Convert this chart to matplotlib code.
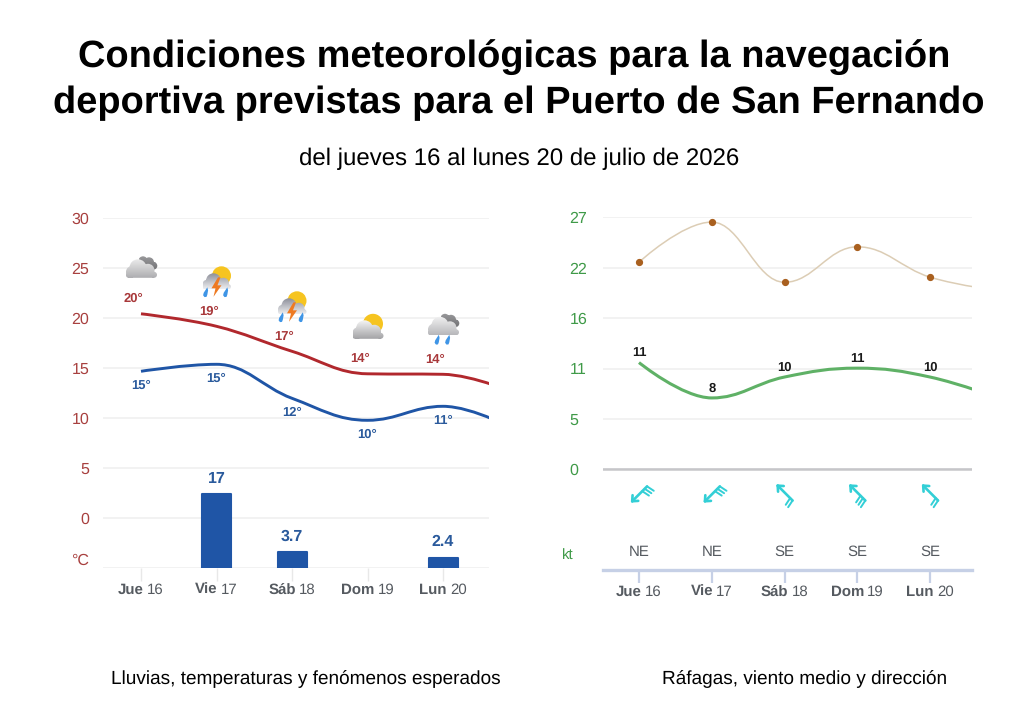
import numpy as np
import matplotlib
matplotlib.use("Agg")
import matplotlib.pyplot as plt
from matplotlib.path import Path
from matplotlib.patches import PathPatch, Circle, Polygon
from matplotlib.transforms import offset_copy

plt.rcParams["font.family"] = ["Liberation Sans", "DejaVu Sans"]
plt.rcParams["text.hinting"] = "no_hinting"
plt.rcParams["text.hinting_factor"] = 1

# Forecast data; the sixth value belongs to the next day, which only enters the
# plot as the tail of each curve at the right edge.
day_names = ["Jue", "Vie", "Sáb", "Dom", "Lun"]
day_numbers = ["16", "17", "18", "19", "20"]
temp_max = [20.45, 19.2, 16.7, 14.45, 14.4, 12.4]
temp_min = [14.7, 15.4, 12.0, 9.8, 11.2, 8.7]
rain_mm = [0, 17, 3.7, 0, 2.4]
sky = ["nube", "tormenta", "tormenta", "sol", "lluvia"]
wind_mean = [11.45, 7.66, 9.9, 10.85, 9.9, 7.5]
wind_gust = [22.2, 26.5, 20.05, 23.85, 20.6, 19.1]
wind_from_deg = [45, 45, 135, 135, 135]
wind_feathers = [3, 3, 2, 3, 2]
wind_names = ["NE", "NE", "SE", "SE", "SE"]
temp_ticks = [-5, 0, 5, 10, 15, 20, 25, 30]
temp_tick_labels = ["", "0", "5", "10", "15", "20", "25", "30"]
wind_ticks = [0, 5.4, 10.8, 16.2, 21.6, 27]
wind_tick_labels = ["0", "5", "11", "16", "22", "27"]

W, H = 1024, 720
RED = "#b1282d"
BLUE = "#1f55a6"
GREEN = "#5fb166"
TEXT_RED = "#a8403f"
TEXT_GREEN = "#3f9a48"
GREY = "#555a60"
CYAN = "#33cfd6"

fig = plt.figure(figsize=(W / 100, H / 100), dpi=100, facecolor="white")


def px_axes(left, top, right, bottom, **kw):
    return fig.add_axes([left / W, 1 - bottom / H, (right - left) / W, (bottom - top) / H], **kw)


def spline(xs, ys):
    """Smooth path through the points, with the control points a spline chart uses."""
    n = len(xs)
    ctrl = []
    for i in range(n):
        if i in (0, n - 1):
            ctrl.append((xs[i], ys[i], xs[i], ys[i]))
            continue
        x, y = xs[i], ys[i]
        lx, ly = xs[i - 1], ys[i - 1]
        nx, ny = xs[i + 1], ys[i + 1]
        lcx, lcy = (1.5 * x + lx) / 2.5, (1.5 * y + ly) / 2.5
        rcx, rcy = (1.5 * x + nx) / 2.5, (1.5 * y + ny) / 2.5
        corr = (rcy - lcy) * (rcx - x) / (rcx - lcx) + y - rcy
        lcy += corr
        rcy += corr
        if lcy > ly and lcy > y:
            lcy = max(ly, y)
            rcy = 2 * y - lcy
        elif lcy < ly and lcy < y:
            lcy = min(ly, y)
            rcy = 2 * y - lcy
        if rcy > ny and rcy > y:
            rcy = max(ny, y)
            lcy = 2 * y - rcy
        elif rcy < ny and rcy < y:
            rcy = min(ny, y)
            lcy = 2 * y - rcy
        ctrl.append((lcx, lcy, rcx, rcy))
    verts = [(xs[0], ys[0])]
    codes = [Path.MOVETO]
    for i in range(1, n):
        verts += [(ctrl[i - 1][2], ctrl[i - 1][3]), (ctrl[i][0], ctrl[i][1]), (xs[i], ys[i])]
        codes += [Path.CURVE4] * 3
    return Path(verts, codes)


def draw_curve(ax, values, color, width, zorder=3):
    patch = PathPatch(spline(list(range(len(values))), values), fill=False, edgecolor=color,
                      linewidth=width, capstyle="butt", zorder=zorder)
    ax.add_patch(patch)


def note(ax, text, x, y, dx, dy, **kw):
    ax.annotate(text, (x, y), xytext=(dx * 0.72, -dy * 0.72), textcoords="offset points",
                ha="center", va="center", **kw)


def day_label(ax, i, baseline_px_below):
    """Bold weekday and regular date on one baseline, centred together under the category."""
    renderer = fig.canvas.get_renderer()
    style = dict(fontsize=11, color=GREY, va="baseline", clip_on=False)
    base = ax.get_xaxis_transform()
    bold = ax.text(i, 0, day_names[i], fontweight="bold", ha="left", **style)
    plain = ax.text(i, 0, day_numbers[i], ha="left", **style)
    w_bold = bold.get_window_extent(renderer).width
    w_plain = plain.get_window_extent(renderer).width
    gap = 3.2
    start = -(w_bold + gap + w_plain) / 2
    bold.set_transform(offset_copy(base, fig=fig, x=start, y=-baseline_px_below, units="dots"))
    plain.set_transform(offset_copy(base, fig=fig, x=start + w_bold + gap, y=-baseline_px_below, units="dots"))


# ---- left panel: rain, temperatures and sky ----
ax_t = px_axes(103, 218.3, 489, 568.3)
ax_t.set_xlim((103 - 141) / 75.5, (489 - 141) / 75.5)
ax_t.set_ylim(-5, 30)
for s in ax_t.spines.values():
    s.set_visible(False)
ax_t.set_yticks(temp_ticks, temp_tick_labels, fontsize=11.5, color=TEXT_RED)
ax_t.tick_params(axis="y", length=0, pad=10)
ax_t.grid(axis="y", color="#f0f0f0", linewidth=1.2)
ax_t.set_axisbelow(True)
ax_t.set_xticks(range(5), [""] * 5)
ax_t.tick_params(axis="x", length=9, width=1, color="#e8e8e8")
ax_t.patch.set_alpha(0)

# Rain bars share the panel's baseline but have their own millimetre scale
ax_r = ax_t.twinx()
ax_r.set_ylim(0, 349.9 / 4.35)
ax_r.axis("off")
ax_r.set_zorder(3)
ax_t.set_zorder(2)
rain_days = [i for i, v in enumerate(rain_mm) if v > 0]
ax_r.bar(rain_days, [rain_mm[i] for i in rain_days], width=29 / 75.5, color=BLUE, edgecolor=BLUE,
         linewidth=1.5, joinstyle="round")
for i in rain_days:
    note(ax_r, f"{rain_mm[i]:g}", i, rain_mm[i], 0, -15.5, fontsize=11.5, fontweight="bold", color="#2a5a9c")

draw_curve(ax_t, temp_max, RED, 2.1)
draw_curve(ax_t, temp_min, BLUE, 2.1)
for i in range(5):
    note(ax_t, f"{round(temp_max[i])}°", i, temp_max[i], -7.5, -15, fontsize=9, fontweight="bold", color="#a8383a")
    note(ax_t, f"{round(temp_min[i])}°", i, temp_min[i], 0, 14, fontsize=9, fontweight="bold", color="#2a5a9c")
    day_label(ax_t, i, 25.5)
ax_t.text(-0.037, (568.3 - 561) / 350, "°C", transform=ax_t.transAxes, fontsize=11.5,
          color=TEXT_RED, ha="right", va="center", clip_on=False)

# ---- right panel: gusts, mean wind and direction ----
ax_w = px_axes(603, 217.4, 972, 570)
ax_w.set_xlim((603 - 639) / 72.75, (972 - 639) / 72.75)
ax_w.set_ylim(-(570 - 469.5) / 9.33, 27)
for name, s in ax_w.spines.items():
    s.set_visible(name == "bottom")
ax_w.spines["bottom"].set_color("#c6d0e6")
ax_w.spines["bottom"].set_linewidth(2.4)
ax_w.set_yticks(wind_ticks, wind_tick_labels, fontsize=11.5, color=TEXT_GREEN, ha="left")
ax_w.tick_params(axis="y", length=0, pad=24)
ax_w.grid(axis="y", color="#f0f0f0", linewidth=1.2)
ax_w.set_axisbelow(True)
ax_w.axhline(0, color="#c6c6c9", linewidth=1.8, zorder=1)
ax_w.set_xticks(range(5), [""] * 5)
ax_w.tick_params(axis="x", length=9.5, width=1.6, color="#c6d0e6")
ax_w.patch.set_alpha(0)

draw_curve(ax_w, wind_gust, "#dccdb5", 1.1)
ax_w.plot(range(5), wind_gust[:5], linestyle="none", marker="o", markersize=4.2, color="#a9601f", zorder=4)
draw_curve(ax_w, wind_mean, GREEN, 2.2)
for i in range(5):
    note(ax_w, f"{round(wind_mean[i])}", i, wind_mean[i], 0, -9.5, fontsize=9, fontweight="bold", color="#1a1a1a")
    ax_w.annotate(wind_names[i], (i, 0), xytext=(0, -(552.5 - 469.5) * 0.72), textcoords="offset points",
                  ha="center", va="center", fontsize=10.5, color=GREY)
    day_label(ax_w, i, 26)
ax_w.annotate("kt", (0, 0), xycoords="axes fraction", xytext=(-35 * 0.72, 14 * 0.72), textcoords="offset points",
              ha="center", va="center", fontsize=10.5, color=TEXT_GREEN)

# ---- overlay in figure pixels for weather and wind glyphs ----
ovl = fig.add_axes([0, 0, 1, 1], zorder=5)
ovl.axis("off")
ovl.patch.set_alpha(0)


def to_px(ax, x, y):
    px, py = ax.transData.transform((x, y))
    return px, H - py


def cloud(cx, cy, circles, base, top_rgb, bottom_rgb, zorder):
    """Gradient-filled cloud: circles plus a flat base, given relative to (cx, cy)."""
    parts = [Path.circle((cx + u, cy + v), r) for u, v, r in circles]
    u0, v0, u1, v1 = base
    parts.append(Path([(cx + u0, cy + v0), (cx + u1, cy + v0), (cx + u1, cy + v1), (cx + u0, cy + v1),
                       (cx + u0, cy + v0)], closed=True))
    outline = Path.make_compound_path(*parts)
    us = [u - r for u, v, r in circles] + [u0]
    ue = [u + r for u, v, r in circles] + [u1]
    vs = [v - r for u, v, r in circles] + [v0]
    ve = [v + r for u, v, r in circles] + [v1]
    t = np.linspace(0, 1, 48)[:, None, None]
    grad = (1 - t) * np.array(top_rgb)[None, None, :] + t * np.array(bottom_rgb)[None, None, :]
    im = ovl.imshow(grad, extent=(cx + min(us), cx + max(ue), cy + max(ve), cy + min(vs)),
                    aspect="auto", interpolation="bilinear", zorder=zorder)
    im.set_clip_path(outline, transform=ovl.transData)


FRONT = [(-9.5, -6, 5.5), (-3, -10, 8.5), (7, -7.5, 6.5), (-12.5, -2.5, 2.5), (13, -3, 3)]
FRONT_BASE = (-12.5, -7, 13, 0)
BACK = [(2, -17, 4.5), (8, -15.5, 5), (12.5, -12, 3.8)]
BACK_BASE = (2, -15, 15, -10)
STORM = [(-9.5, -5, 4.5), (-3, -8.5, 7.5), (7, -6, 5.5), (-11.5, -2.5, 2.5), (12, -2.5, 2.5)]
STORM_BASE = (-11.5, -6, 12, 0)


def drop(cx, cy):
    ovl.add_patch(Polygon([(cx + 1.8, cy - 9), (cx - 1.8, cy - 3.5), (cx - 2.4, cy - 1), (cx - 1, cy + 0.8),
                           (cx + 1, cy + 0.6), (cx + 1.8, cy - 1.5), (cx + 2.6, cy - 6)], closed=True,
                          facecolor="#3f95e6", edgecolor="none", zorder=8))


def sky_icon(cx, y, kind):
    if kind == "sol":
        ovl.add_patch(Circle((cx + 5.5, y - 50), 10, facecolor="#f6c420", edgecolor="none", zorder=6))
        cloud(cx, y - 35, FRONT, FRONT_BASE, (0.96, 0.96, 0.96), (0.64, 0.64, 0.65), 7)
    elif kind == "nube":
        cloud(cx, y - 36, BACK, BACK_BASE, (0.60, 0.60, 0.61), (0.45, 0.45, 0.46), 6)
        cloud(cx, y - 36, FRONT, FRONT_BASE, (0.92, 0.92, 0.92), (0.68, 0.68, 0.69), 7)
    elif kind == "lluvia":
        cloud(cx, y - 39, BACK, BACK_BASE, (0.60, 0.60, 0.61), (0.45, 0.45, 0.46), 6)
        cloud(cx, y - 39, FRONT, FRONT_BASE, (0.95, 0.95, 0.95), (0.72, 0.72, 0.73), 7)
        drop(cx - 6, y - 30.5)
        drop(cx + 4.5, y - 30.5)
    elif kind == "tormenta":
        ovl.add_patch(Circle((cx + 5, y - 50.5), 9.5, facecolor="#f6c420", edgecolor="none", zorder=6))
        cloud(cx, y - 37, STORM, STORM_BASE, (0.55, 0.56, 0.60), (0.93, 0.93, 0.94), 7)
        drop(cx - 11, y - 30)
        drop(cx + 9, y - 30)
        ovl.add_patch(Polygon([(cx + 1.5, y - 49), (cx - 5, y - 38), (cx - 1, y - 38), (cx - 3, y - 29.5),
                               (cx + 5, y - 41), (cx + 1, y - 41), (cx + 4, y - 49)], closed=True,
                              facecolor="#ee7a22", edgecolor="none", zorder=9))


def wind_arrow(cx, cy, from_deg, feathers):
    a = np.radians(from_deg)
    tail = np.array([np.sin(a), -np.cos(a)])  # towards where the wind comes from, y down
    side = np.array([-tail[1], tail[0]])
    barb = 0.2 * tail + 0.98 * side
    tip_pt = np.array([cx, cy]) - tail * 11
    tail_pt = np.array([cx, cy]) + tail * 10
    style = dict(color=CYAN, linewidth=1.9, solid_capstyle="round", zorder=6)
    ovl.plot([tip_pt[0], tail_pt[0]], [tip_pt[1], tail_pt[1]], **style)
    for sgn in (-1, 1):
        head = tip_pt + tail * 4.5 + side * sgn * 4
        ovl.plot([tip_pt[0], head[0]], [tip_pt[1], head[1]], **style)
    for k in range(feathers):
        start = tail_pt - tail * 3.4 * k
        end = start + barb * 8
        ovl.plot([start[0], end[0]], [start[1], end[1]], color=CYAN, linewidth=1.4,
                 solid_capstyle="round", zorder=6)


for i in range(5):
    cx, y = to_px(ax_t, i, temp_max[i])
    sky_icon(cx, y, sky[i])
    wx, _ = to_px(ax_w, i, 0)
    _, wy = to_px(ax_w, 0, 0)
    wind_arrow(wx + 1, wy + 24, wind_from_deg[i], wind_feathers[i])

ovl.set_xlim(0, W)
ovl.set_ylim(H, 0)

# ---- headings and captions ----
fig.text(514 / W, 1 - 57 / H, "Condiciones meteorológicas para la navegación", ha="center", va="center",
         fontsize=27.7, fontweight="bold", color="black")
fig.text(519 / W, 1 - 103 / H, "deportiva previstas para el Puerto de San Fernando", ha="center", va="center",
         fontsize=27.7, fontweight="bold", color="black")
fig.text(519 / W, 1 - 159 / H, "del jueves 16 al lunes 20 de julio de 2026", ha="center", va="center",
         fontsize=17.3, color="black")
fig.text(306 / W, 1 - 679 / H, "Lluvias, temperaturas y fenómenos esperados", ha="center", va="center",
         fontsize=14, color="black")
fig.text(804.5 / W, 1 - 679 / H, "Ráfagas, viento medio y dirección", ha="center", va="center",
         fontsize=14, color="black")

fig.savefig("out.png", dpi=100, facecolor="white")
